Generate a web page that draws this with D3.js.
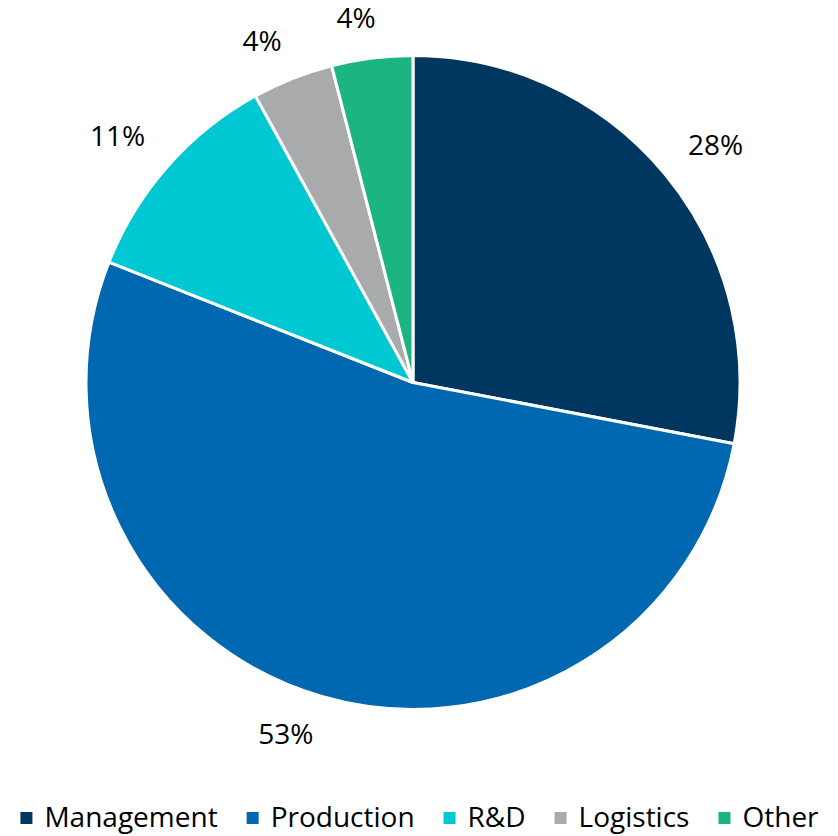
<!DOCTYPE html>
<html>
<head>
<meta charset="utf-8">
<script src="https://cdn.jsdelivr.net/npm/d3@7"></script>
<style>
  html, body { margin: 0; padding: 0; background: #ffffff; }
  svg { display: block; }
  text { font-family: "Open Sans", "Lato", "Liberation Sans", sans-serif; fill: #000000; }
</style>
</head>
<body>
<svg id="chart" width="838" height="836"></svg>
<script>
// Headcount share by department
const categories = ["Management", "Production", "R&D", "Logistics", "Other"];
const shares = [28, 53, 11, 4, 4];
const labels = ["28%", "53%", "11%", "4%", "4%"];
const colors = ["#003761", "#0067B1", "#00C8D3", "#A8AAAC", "#1CB582"];

const width = 838, height = 836;
const cx = 413, cy = 382.5, radius = 327;
const labelFont = 28, legendFont = 28;

const svg = d3.select("#chart");
const g = svg.append("g").attr("transform", `translate(${cx},${cy})`);

const pie = d3.pie().sort(null).value(d => d.value)
  .startAngle(0).endAngle(2 * Math.PI);
const data = pie(categories.map((c, i) => ({ name: c, value: shares[i], label: labels[i] })));

const arc = d3.arc().innerRadius(0).outerRadius(radius);

g.selectAll("path.slice")
  .data(data)
  .join("path")
  .attr("class", "slice")
  .attr("d", arc)
  .attr("fill", (d, i) => colors[i])
  .attr("stroke", "#ffffff")
  .attr("stroke-width", 3)
  .attr("stroke-linejoin", "round");

// Value labels: box corner anchored on a ring just outside the pie
const gap = 30;
const capH = labelFont * 0.68;
g.selectAll("text.value")
  .data(data)
  .join("text")
  .attr("class", "value")
  .attr("font-size", labelFont)
  .attr("text-anchor", "middle")
  .text(d => d.data.label)
  .each(function (d) {
    const w = this.getComputedTextLength();
    const a = (d.startAngle + d.endAngle) / 2;
    const ux = Math.sin(a), uy = -Math.cos(a);
    const r = radius + gap;
    const bx = r * ux + Math.sign(ux) * (w / 2) * Math.min(1, Math.abs(ux) / 0.2);
    const by = r * uy + Math.sign(uy) * capH / 2;
    d3.select(this)
      .attr("x", bx)
      .attr("y", by + capH / 2);
  });

// Legend along the bottom
const sq = 12, sqGap = 12, itemGap = 29;
const legend = svg.append("g").attr("class", "legend");
const items = legend.selectAll("g.item")
  .data(categories)
  .join("g")
  .attr("class", "item");
items.append("rect")
  .attr("width", sq).attr("height", sq)
  .attr("y", 812)
  .attr("fill", (d, i) => colors[i]);
items.append("text")
  .attr("font-size", legendFont)
  .attr("y", 827)
  .text(d => d);

let widths = [];
items.select("text").each(function () { widths.push(this.getComputedTextLength()); });
const total = widths.reduce((s, w) => s + sq + sqGap + w, 0) + itemGap * (widths.length - 1);
let x = 419.5 - total / 2;
items.each(function (d, i) {
  const it = d3.select(this);
  it.select("rect").attr("x", x);
  it.select("text").attr("x", x + sq + sqGap);
  x += sq + sqGap + widths[i] + itemGap;
});
</script>
</body>
</html>
